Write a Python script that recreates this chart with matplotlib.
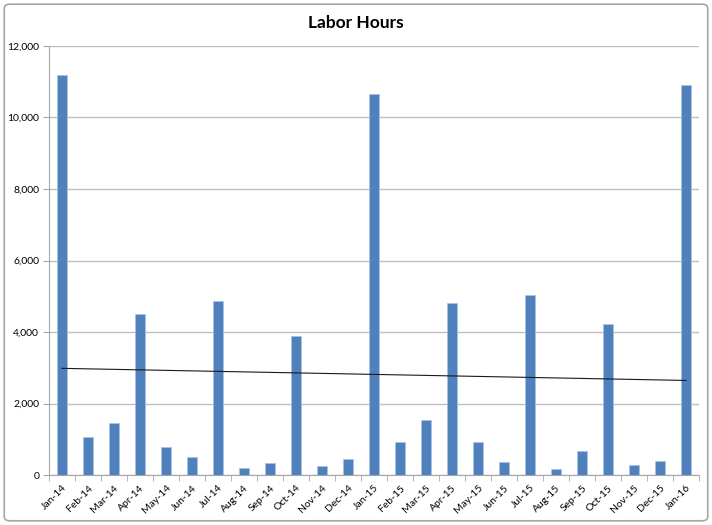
import numpy as np
import matplotlib.pyplot as plt
from matplotlib.patches import FancyBboxPatch
from matplotlib.ticker import FuncFormatter

months = ['Jan-14', 'Feb-14', 'Mar-14', 'Apr-14', 'May-14', 'Jun-14', 'Jul-14',
          'Aug-14', 'Sep-14', 'Oct-14', 'Nov-14', 'Dec-14',
          'Jan-15', 'Feb-15', 'Mar-15', 'Apr-15', 'May-15', 'Jun-15', 'Jul-15',
          'Aug-15', 'Sep-15', 'Oct-15', 'Nov-15', 'Dec-15', 'Jan-16']
hours = [11200, 1050, 1460, 4500, 790, 495, 4860, 187, 327, 3890, 260, 456,
         10670, 932, 1530, 4810, 915, 355, 5035, 177, 663, 4225, 271, 400, 10900]

plt.rcParams['font.family'] = ['Lato', 'DejaVu Sans']

fig = plt.figure(figsize=(7.12, 5.25), dpi=100)
# chart area border
fig.patches.append(FancyBboxPatch((0.006, 0.008), 0.988, 0.984, boxstyle='round,pad=0,rounding_size=0.008',
                                  transform=fig.transFigure, fill=False, edgecolor='#a6a6a6', linewidth=1.2))
ax = fig.add_axes([0.0688, 0.0952, 0.913, 0.8172])

x = np.arange(len(months))
y = np.array(hours)
ax.bar(x, y, width=0.4, color='#4F81BD', edgecolor='#a9c3e3', linewidth=0.5, zorder=3)

# linear trendline
b, a = np.polyfit(x, y, 1)
ax.plot(x, a + b * x, color='#1a1a1a', linewidth=0.8, zorder=4)

ax.set_xlim(-0.5, len(months) - 0.5)
ax.set_ylim(0, 12000)
ax.set_yticks(np.arange(0, 12001, 2000))
ax.yaxis.set_major_formatter(FuncFormatter(lambda v, p: f'{int(v):,}'))
ax.grid(axis='y', color='#bfbfbf', linewidth=1.0, zorder=0)

ax.set_xticks(x)
ax.set_xticklabels(months, rotation=45, ha='right', rotation_mode='anchor', fontsize=7.5)
ax.tick_params(axis='x', length=0, pad=6)
ax.set_xticks(np.arange(-0.5, len(months), 1), minor=True)
ax.tick_params(axis='x', which='minor', length=4, color='#a6a6a6')
ax.tick_params(axis='y', labelsize=7.5, length=4, color='#a6a6a6', pad=3)

for s in ['top', 'right']:
    ax.spines[s].set_visible(False)
ax.spines['left'].set_color('#a6a6a6')
ax.spines['bottom'].set_color('#a6a6a6')

fig.text(0.5, 0.957, 'Labor Hours', ha='center', va='center', fontsize=12.5, fontweight='bold')

fig.savefig('out.png', dpi=100)
